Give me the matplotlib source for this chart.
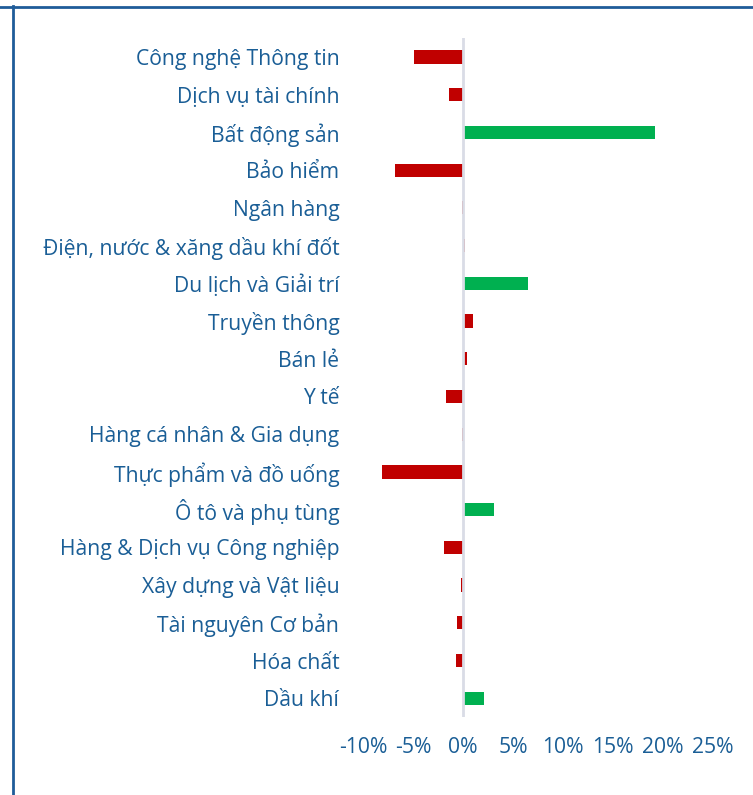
import numpy as np
import matplotlib.pyplot as plt
from matplotlib.lines import Line2D

# Data (top to bottom)
sectors = ["Công nghệ Thông tin", "Dịch vụ tài chính", "Bất động sản", "Bảo hiểm",
           "Ngân hàng", "Điện, nước & xăng dầu khí đốt", "Du lịch và Giải trí",
           "Truyền thông", "Bán lẻ", "Y tế", "Hàng cá nhân & Gia dụng",
           "Thực phẩm và đồ uống", "Ô tô và phụ tùng", "Hàng & Dịch vụ Công nghiệp",
           "Xây dựng và Vật liệu", "Tài nguyên Cơ bản", "Hóa chất", "Dầu khí"]
change = [-4.9, -1.4, 19.2, -6.8, -0.1, 0.2, 6.5, 1.0, 0.4, -1.7, -0.1,
          -8.1, 3.1, -1.9, -0.2, -0.6, -0.7, 2.1]
# green bars only for the clearly rising sectors
rising = ["Bất động sản", "Du lịch và Giải trí", "Ô tô và phụ tùng", "Dầu khí"]
xticks = [-10, -5, 0, 5, 10, 15, 20, 25]

plt.rcParams['font.family'] = ['Open Sans', 'DejaVu Sans']
txt = "#1a5e96"

fig = plt.figure(figsize=(7.53, 7.95), dpi=100)
ax = fig.add_axes([0.482, 0.098, 0.465, 0.854])

y = np.arange(len(sectors))
colors = ["#00b050" if s in rising else "#c00000" for s in sectors]
ax.barh(y, change, height=0.35, color=colors, zorder=2)
ax.axvline(0, color="#d9dce6", lw=2, zorder=3)

ax.set_xlim(-10, 25)
ax.set_ylim(len(sectors) - 0.5, -0.5)
ax.set_yticks(y)
ax.set_yticklabels(sectors, fontsize=15.2, color=txt)
ax.set_xticks(xticks)
ax.set_xticklabels([f"{v}%" for v in xticks], fontsize=15.2, color=txt)
ax.tick_params(axis="y", length=0, pad=17)
ax.tick_params(axis="x", length=0, pad=14)
for s in ax.spines.values():
    s.set_visible(False)

# frame lines on top and left
fig.add_artist(Line2D([0, 1], [1 - 7 / 795, 1 - 7 / 795], color="#1f5c99", lw=2))
fig.add_artist(Line2D([13 / 753, 13 / 753], [0, 1 - 6 / 795], color="#1f5c99", lw=2))

fig.savefig("out.png", dpi=100)
